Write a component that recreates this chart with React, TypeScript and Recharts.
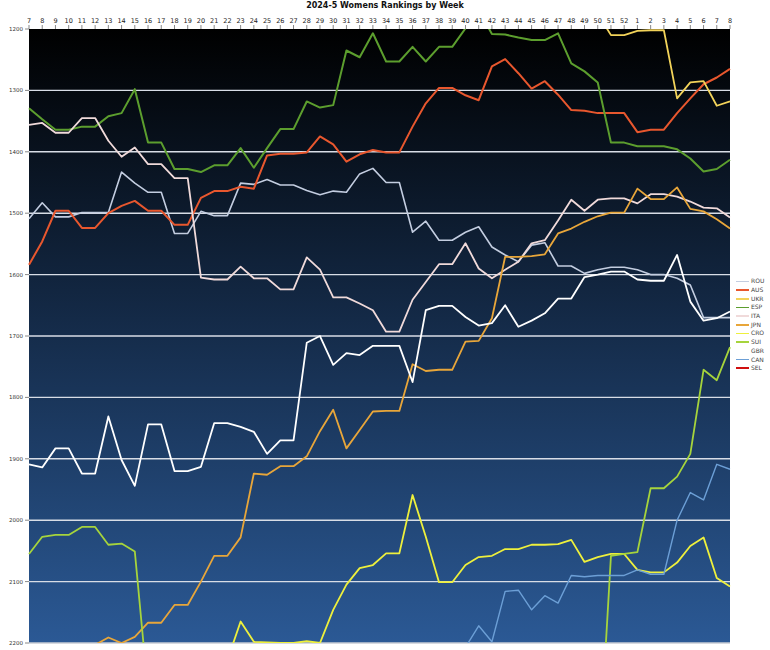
import React from "react";
import { CartesianGrid, Line, LineChart, ReferenceLine, XAxis, YAxis } from "recharts";

const weeks = [
  "7", "8", "9", "10", "11", "12", "13", "14", "15", "16", "17", "18", "19", "20", "21", "22",
  "23", "24", "25", "26", "27", "28", "29", "30", "31", "32", "33", "34", "35", "36", "37", "38",
  "39", "40", "41", "42", "43", "44", "45", "46", "47", "48", "49", "50", "51", "52",
  "1", "2", "3", "4", "5", "6", "7", "8",
];

const yTicks = [1200, 1300, 1400, 1500, 1600, 1700, 1800, 1900, 2000, 2100, 2200];
const gridValues = [1300, 1400, 1500, 1600, 1700, 1800, 1900, 2000, 2100, 2200];

const n = null;

const ROU = [
  1509, 1483, 1506, 1506, 1499, 1499, 1499, 1433, 1451, 1466,
  1466, 1533, 1533, 1497, 1504, 1504, 1451, 1453, 1445, 1454,
  1454, 1463, 1470, 1464, 1466, 1436, 1427, 1450, 1450, 1531,
  1513, 1544, 1544, 1531, 1522, 1555, 1568, 1579, 1552, 1548,
  1586, 1586, 1598, 1592, 1588, 1588,
  1592, 1600, 1600, 1606, 1617, 1670, 1670, 1670,
];
const AUS = [
  1584, 1546, 1496, 1496, 1524, 1524, 1500, 1488, 1480, 1496,
  1496, 1519, 1519, 1475, 1464, 1464, 1457, 1460, 1406, 1403,
  1403, 1401, 1375, 1388, 1416, 1404, 1397, 1401, 1401, 1359,
  1321, 1296, 1296, 1308, 1316, 1261, 1249, 1272, 1297, 1285,
  1307, 1332, 1333, 1337, 1337, 1337,
  1368, 1364, 1364, 1337, 1313, 1290, 1279, 1265,
];
const UKR = [
  n, n, n, n, n, n, n, n, n, n,
  n, n, n, n, n, n, n, n, n, n,
  n, n, n, n, n, n, n, n, n, n,
  n, n, n, n, n, n, n, n, n, n,
  n, n, n, 1175, 1210, 1210,
  1203, 1202, 1202, 1313, 1287, 1285, 1325, 1318,
];
const ESP = [
  1329, 1347, 1364, 1364, 1359, 1359, 1342, 1337, 1298, 1385,
  1385, 1428, 1428, 1433, 1422, 1422, 1394, 1426, 1394, 1363,
  1363, 1318, 1328, 1324, 1235, 1246, 1207, 1253, 1253, 1229,
  1253, 1229, 1229, 1199, 1170, 1208, 1209, 1214, 1218, 1218,
  1207, 1256, 1269, 1287, 1385, 1385,
  1391, 1391, 1391, 1396, 1411, 1432, 1428, 1413,
];
const ITA = [
  1356, 1353, 1369, 1369, 1345, 1345, 1382, 1408, 1393, 1420,
  1420, 1443, 1443, 1605, 1608, 1608, 1587, 1606, 1606, 1624,
  1624, 1572, 1592, 1637, 1637, 1647, 1658, 1693, 1693, 1641,
  1612, 1583, 1583, 1549, 1590, 1606, 1592, 1579, 1549, 1544,
  1512, 1478, 1496, 1478, 1476, 1476,
  1484, 1469, 1469, 1473, 1481, 1491, 1492, 1507,
];
const JPN = [
  n, n, n, n, n, 2203, 2191, 2200, 2190, 2167,
  2167, 2138, 2138, 2100, 2058, 2058, 2028, 1924, 1926, 1912,
  1912, 1896, 1855, 1820, 1883, 1853, 1823, 1822, 1822, 1746,
  1757, 1755, 1755, 1709, 1708, 1671, 1571, 1571, 1570, 1567,
  1533, 1525, 1514, 1505, 1499, 1499,
  1460, 1477, 1477, 1458, 1493, 1497, 1510, 1525,
];
const CRO = [
  n, n, n, n, n, n, n, n, n, n,
  n, n, n, n, n, 2228, 2165, 2198, 2199, 2200,
  2200, 2197, 2200, 2146, 2105, 2078, 2073, 2054, 2054, 1959,
  2027, 2101, 2101, 2073, 2060, 2058, 2047, 2047, 2040, 2040,
  2039, 2032, 2068, 2060, 2055, 2055,
  2081, 2085, 2085, 2069, 2042, 2028, 2094, 2108,
];
const SUI = [
  2055, 2027, 2024, 2024, 2011, 2011, 2040, 2038, 2051, 2280,
  n, n, n, n, n, n, n, n, n, n,
  n, n, n, n, n, n, n, n, n, n,
  n, n, n, n, n, n, n, n, n, n,
  n, n, n, 2430, 2058, 2055,
  2052, 1948, 1948, 1929, 1892, 1755, 1772, 1718,
];
const GBR = [
  1909, 1914, 1883, 1883, 1924, 1924, 1831, 1902, 1944, 1844,
  1844, 1920, 1920, 1913, 1842, 1842, 1848, 1856, 1892, 1870,
  1870, 1711, 1700, 1747, 1728, 1731, 1716, 1716, 1716, 1775,
  1658, 1651, 1651, 1669, 1683, 1679, 1650, 1685, 1675, 1663,
  1639, 1639, 1604, 1600, 1595, 1595,
  1608, 1610, 1610, 1568, 1644, 1675, 1671, 1660,
];
const CAN = [
  n, n, n, n, n, n, n, n, n, n,
  n, n, n, n, n, n, n, n, n, n,
  n, n, n, n, n, n, n, n, n, n,
  n, n, n, 2207, 2172, 2198, 2116, 2114, 2146, 2123,
  2135, 2090, 2092, 2090, 2090, 2090,
  2081, 2088, 2088, 2000, 1955, 1967, 1909, 1917,
];
const SEL = weeks.map(() => null);

const series = [
  { key: "ROU", values: ROU, color: "#c3cde0", width: 1.6 },
  { key: "AUS", values: AUS, color: "#e8572e", width: 2 },
  { key: "UKR", values: UKR, color: "#f2d35a", width: 1.8 },
  { key: "ESP", values: ESP, color: "#5c9e2e", width: 2 },
  { key: "ITA", values: ITA, color: "#f0dada", width: 1.8 },
  { key: "JPN", values: JPN, color: "#e8a63a", width: 1.8 },
  { key: "CRO", values: CRO, color: "#eef03c", width: 1.8 },
  { key: "SUI", values: SUI, color: "#a6d43c", width: 1.8 },
  { key: "GBR", values: GBR, color: "#ffffff", width: 1.8 },
  { key: "CAN", values: CAN, color: "#6c9fd6", width: 1.4 },
  { key: "SEL", values: SEL, color: "#d01010", width: 2 },
];

const data = weeks.map((w, i) => {
  const row: Record<string, number | string | null> = { i, week: w };
  series.forEach((s) => {
    row[s.key] = s.values[i];
  });
  return row;
});

const font = "'DejaVu Sans', sans-serif";

export default function App() {
  return (
    <div style={{ position: "absolute", left: 0, top: 0, width: 770, height: 650, background: "#fff", fontFamily: font }}>
      <div
        style={{
          position: "absolute",
          top: 1,
          left: 0,
          width: 770,
          textAlign: "center",
          fontSize: 8,
          fontWeight: "bold",
          color: "#111",
        }}
      >
        2024-5 Womens Rankings by Week
      </div>
      <LineChart
        width={770}
        height={650}
        data={data}
        margin={{ top: 15, right: 40, bottom: 7, left: 8 }}
      >
        <defs>
          <linearGradient id="bg" x1="0" y1="0" x2="0" y2="1">
            <stop offset="0%" stopColor="#000000" />
            <stop offset="45%" stopColor="#132844" />
            <stop offset="100%" stopColor="#2b5995" />
          </linearGradient>
        </defs>
        <CartesianGrid horizontal={false} vertical={false} fill="url(#bg)" />
        <XAxis
          dataKey="i"
          type="number"
          orientation="top"
          domain={[0, weeks.length - 1]}
          ticks={weeks.map((_, i) => i)}
          tickFormatter={(v: number) => weeks[v]}
          interval={0}
          height={14}
          axisLine={false}
          tickLine={{ stroke: "#888" }}
          tickSize={4}
          tick={{ fontSize: 6.5, fill: "#222", fontFamily: font }}
        />
        <YAxis
          type="number"
          reversed
          domain={[1200, 2200]}
          ticks={yTicks}
          allowDataOverflow
          interval={0}
          width={21}
          axisLine={false}
          tickLine={{ stroke: "#888" }}
          tickSize={4}
          tick={{ fontSize: 5.5, fill: "#333", fontFamily: font }}
        />
        {gridValues.map((v) => (
          <ReferenceLine key={v} y={v} stroke={v === 2200 ? "#c9ccd4" : "#d8dde6"} strokeWidth={1.4} />
        ))}
        {series.map((s) => (
          <Line
            key={s.key}
            dataKey={s.key}
            type="linear"
            stroke={s.color}
            strokeWidth={s.width}
            strokeLinejoin="round"
            dot={false}
            connectNulls={false}
            isAnimationActive={false}
          />
        ))}
      </LineChart>
      <div style={{ position: "absolute", left: 736, top: 277 }}>
        {series.map((s) => (
          <div key={s.key} style={{ display: "flex", alignItems: "center", height: 8.7 }}>
            <div style={{ width: 13, height: 1.6, background: s.color }} />
            <span style={{ fontSize: 6, color: "#444", marginLeft: 2, lineHeight: "8px" }}>{s.key}</span>
          </div>
        ))}
      </div>
    </div>
  );
}
